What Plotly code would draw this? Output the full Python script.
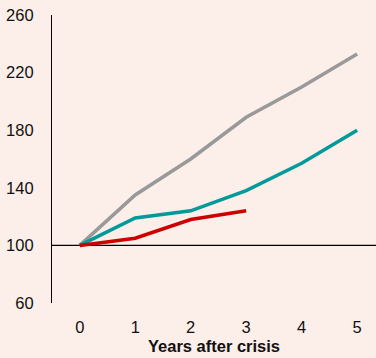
import plotly.graph_objects as go

years = [0, 1, 2, 3, 4, 5]
gray_vals = [100, 135, 160, 189, 210, 233]
teal_vals = [100, 119, 124, 138, 157, 180]
red_years = [0, 1, 2, 3]
red_vals = [100, 105, 118, 124]
y_ticks = [60, 100, 140, 180, 220, 260]

bg = "#FCEEE8"
fig = go.Figure()
fig.add_trace(go.Scatter(x=years, y=gray_vals, mode="lines",
                         line=dict(color="#999999", width=3.5), showlegend=False))
fig.add_trace(go.Scatter(x=years, y=teal_vals, mode="lines",
                         line=dict(color="#009A9A", width=3.5), showlegend=False))
fig.add_trace(go.Scatter(x=red_years, y=red_vals, mode="lines",
                         line=dict(color="#CC0000", width=3.5), showlegend=False))

fig.add_shape(type="line", xref="paper", x0=0, x1=1, yref="y", y0=100, y1=100,
              line=dict(color="black", width=1.2), layer="below")

fig.update_layout(
    width=376, height=358,
    paper_bgcolor=bg, plot_bgcolor=bg,
    margin=dict(l=52, r=0, t=15, b=55),
    font=dict(family="Liberation Sans, Arial, sans-serif", size=16.5, color="#111111"),
    xaxis=dict(range=[-0.5, 5.34], tickvals=years, showgrid=False, zeroline=False,
               showline=False, ticks="", ticklabelstandoff=12, automargin=False,
               title=dict(text="<b>Years after crisis</b>", font=dict(size=16.5), standoff=5)),
    yaxis=dict(range=[60, 260], tickvals=y_ticks, showgrid=False, zeroline=False,
               showline=True, linecolor="black", linewidth=1.2, ticks="",
               ticklabelstandoff=14, automargin=False),
)
fig.write_html("out.html", config={"displayModeBar": False},
               post_script="document.body.style.margin='0';document.body.style.overflow='hidden';document.body.style.background='%s';" % bg)
